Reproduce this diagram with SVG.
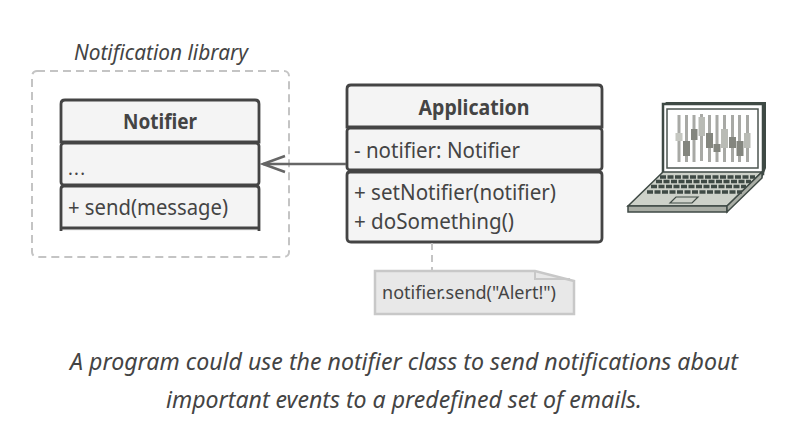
<svg xmlns="http://www.w3.org/2000/svg" width="800" height="445" viewBox="0 0 800 445">
<style>
text{font-family:"Noto Sans","Open Sans","Liberation Sans",sans-serif;fill:#444}
.t{font-size:21.500px}
.b{font-size:21.500px;font-weight:700;text-anchor:middle}
.c{font-size:23.500px;font-style:italic;text-anchor:middle}
.box{fill:#f4f4f4;stroke:#444;stroke-width:2.800}
.s{fill:#a8a9a5}
.l{fill:#b9bbb5}
.d{fill:#84867f}
</style>
<rect width="800" height="445" fill="#fff"/>
<g id="library">
<rect x="32" y="71" width="257" height="186" rx="5" fill="none" stroke="#c4c4c4" stroke-width="2" stroke-dasharray="8 5"/>
<text x="161" y="60" class="c" style="font-size:21.500px" textLength="174" lengthAdjust="spacingAndGlyphs">Notification library</text>
</g>
<g id="notifier">
<path d="M61 142V104q0-4 4-4H255q4 0 4 4V142Z" class="box"/>
<rect x="61" y="143" width="198" height="42" rx="3" class="box"/>
<path d="M61 231V189q0-3 3-3H256q3 0 3 3V231M61 228H259" class="box"/>
<text x="160" y="129" class="b" textLength="74" lengthAdjust="spacingAndGlyphs">Notifier</text>
<text x="68" y="175" class="t" style="font-size:18px" textLength="17">...</text>
<text x="68" y="215" class="t" textLength="160" lengthAdjust="spacingAndGlyphs">+ send(message)</text>
</g>
<g id="application">
<path d="M347 127V89q0-4 4-4H598q4 0 4 4V127Z" class="box"/>
<rect x="347" y="128" width="255" height="42" rx="3" class="box"/>
<path d="M347 175q0-3 3-3H599q3 0 3 3V238q0 4-4 4H351q-4 0-4-4Z" class="box"/>
<text x="474" y="115" class="b" textLength="111" lengthAdjust="spacingAndGlyphs">Application</text>
<text x="354" y="158" class="t" textLength="166" lengthAdjust="spacingAndGlyphs">- notifier: Notifier</text>
<text x="354" y="200" class="t" textLength="202" lengthAdjust="spacingAndGlyphs">+ setNotifier(notifier)</text>
<text x="354" y="229" class="t" textLength="160" lengthAdjust="spacingAndGlyphs">+ doSomething()</text>
</g>
<g id="connectors" fill="none">
<path d="M346 164H263" stroke="#666" stroke-width="2.500"/>
<path d="M285 156L263 164L285 172" stroke="#666" stroke-width="2.500"/>
<path d="M432 243V271" stroke="#c4c4c4" stroke-width="2" stroke-dasharray="7 5"/>
</g>
<g id="note">
<path d="M375 271H535L574 281V314H375Z" fill="#e8e8e8" stroke="#c8c8c8" stroke-width="2.500"/>
<path d="M535 271V279H570" fill="none" stroke="#c8c8c8" stroke-width="2"/>
<text x="382" y="299" style="font-size:18.500px" textLength="174" lengthAdjust="spacingAndGlyphs">notifier.send("Alert!")</text>
</g>
<g id="laptop">
<path d="M665 102L766 102V168L762 178Z" fill="#3f4a45"/>
<rect x="663" y="104" width="100" height="70" fill="#fff" stroke="#3f4a45" stroke-width="2.500"/>
<rect x="667" y="109" width="91" height="59" fill="#fff" stroke="#4c5550" stroke-width="1.500"/>
<g class="s">
<rect x="677.500" y="115" width="3" height="47"/><rect x="685" y="115" width="3" height="47"/><rect x="692.500" y="115" width="3" height="47"/><rect x="700" y="114" width="3" height="47"/><rect x="708" y="115" width="3" height="47"/><rect x="715.500" y="115" width="3" height="47"/><rect x="723" y="115" width="3" height="47"/><rect x="731" y="115" width="3" height="47"/><rect x="738" y="115" width="3" height="47"/><rect x="746" y="115" width="3" height="47"/>
</g>
<rect x="675.500" y="133" width="7" height="8" style="fill:#c5c7c1"/>
<rect x="683" y="141" width="7" height="15" class="d"/>
<rect x="691" y="129" width="6.500" height="11" class="d"/>
<rect x="698.500" y="117" width="6.500" height="19" class="l"/>
<rect x="706" y="133" width="7" height="15" class="d"/>
<rect x="713.500" y="144" width="7" height="8" class="d"/>
<rect x="721" y="129" width="7" height="19" class="l"/>
<rect x="729" y="137" width="7" height="11" class="d"/>
<rect x="736.500" y="141" width="7" height="15" class="d"/>
<rect x="744" y="133" width="6.500" height="15" class="l"/>
<path d="M663 172H762L727 206H628Z" fill="#cdd1c9" stroke="#3f4a45" stroke-width="1.500"/>
<path d="M628 206H727V212H628Z" fill="#a9ada5" stroke="#3f4a45" stroke-width="1.500"/>
<path d="M727 212L762 178V172L727 206Z" fill="#a9ada5" stroke="#3f4a45" stroke-width="1.500"/>
<path d="M660 177H755M656 181.500H751M651 186.500H746M647 192H742" fill="none" stroke="#3f4a45" stroke-width="3.500" stroke-dasharray="6 1.500"/>
<path d="M676 197H698L692 203H670Z" fill="#cdd1c9" stroke="#3f4a45" stroke-width="1.200"/>
</g>
<g id="caption">
<text x="404" y="370" class="c" textLength="668" lengthAdjust="spacingAndGlyphs">A program could use the notifier class to send notifications about</text>
<text x="404" y="408" class="c" textLength="476" lengthAdjust="spacingAndGlyphs">important events to a predefined set of emails.</text>
</g>
</svg>
